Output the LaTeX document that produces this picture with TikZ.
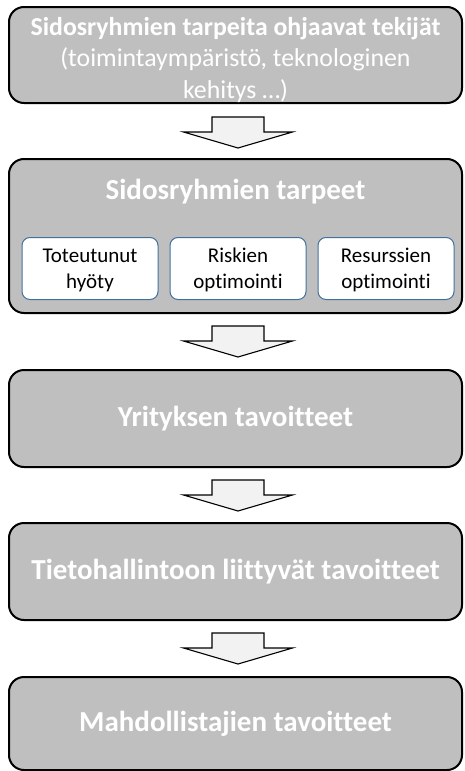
\documentclass[tikz,border=0pt]{standalone}
\usepackage{fontspec}
\setmainfont[Ligatures={NoCommon}]{Carlito}
\usetikzlibrary{calc}
\definecolor{boxgray}{HTML}{BFBFBF}
\definecolor{arrowfill}{HTML}{F2F2F2}
\definecolor{subedge}{RGB}{65,113,156}
\tikzset{
  stagebox/.style={draw=black, line width=2pt, fill=boxgray, rounded corners=15pt,
    minimum width=453pt, inner sep=0pt, text=white, align=center},
  subbox/.style={draw=subedge, line width=1pt, fill=white, rounded corners=8pt,
    minimum width=136pt, minimum height=62pt, inner sep=0pt},
  subtext/.style={align=center, font=\fontsize{21}{26}\selectfont},
  titlefont/.style={font=\fontsize{29}{34}\selectfont\bfseries},
  blockarrow/.style={draw=black, line width=1.1pt, fill=arrowfill, line join=miter},
  pics/downarrow/.style={code={
    \draw[blockarrow] (-26,-15.5) -- (26,-15.5) -- (26,-0.5) -- (54.5,-0.5)
      -- (0,15.5) -- (-54.5,-0.5) -- (-26,-0.5) -- cycle;
  }}
}
\begin{document}
\begin{tikzpicture}[x=1pt, y=-1pt]
\useasboundingbox (0,0) rectangle (464,771);

% stage boxes
\node[stagebox, minimum height=96pt] (b1) at (235.5,55) {};
\node[text=white, align=center, font=\fontsize{25.8}{31.5}\selectfont] (b1text) at (235.5,60)
  {\textbf{Sidosryhmien tarpeita ohjaavat tekijät}\\
   (toimintaympäristö, teknologinen\\
   kehitys …)};
\node[stagebox, minimum height=154pt] (b2) at (235.5,236) {};
\node[titlefont, text=white] (b2title) at (235.5,192) {Sidosryhmien tarpeet};

% needs inside the second stage
\node[subbox] (s1) at (90,268.5) {};
\node[subbox] (s2) at (238,268.5) {};
\node[subbox] (s3) at (386,268.5) {};
\node[subtext] (s1t) at (90,270) {Toteutunut\\hyöty};
\node[subtext] (s2t) at (238,270) {Riskien\\optimointi};
\node[subtext] (s3t) at (386,270) {Resurssien\\optimointi};

\node[stagebox, titlefont, minimum height=97pt] (b3) at (235.5,418.5) {Yrityksen tavoitteet};
\node[stagebox, titlefont, minimum height=97pt] (b4) at (235.5,571.5) {Tietohallintoon liittyvät tavoitteet};
\node[stagebox, titlefont, minimum height=93pt] (b5) at (235.5,723.5) {Mahdollistajien tavoitteet};

% block arrows between the stages
\pic (a1) at (238,132.5) {downarrow};
\pic (a2) at (238,341.5) {downarrow};
\pic (a3) at (238,495.5) {downarrow};
\pic (a4) at (238,648.5) {downarrow};
\end{tikzpicture}
\end{document}
